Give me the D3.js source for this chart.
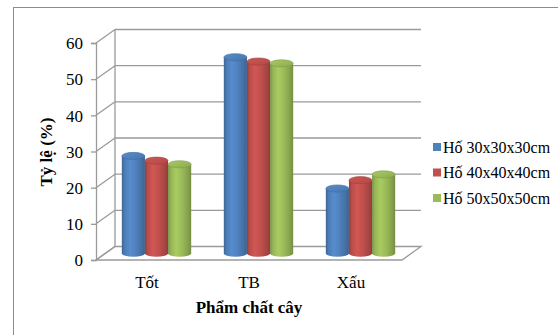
<!DOCTYPE html>
<html>
<head>
<meta charset="utf-8">
<script src="https://cdn.jsdelivr.net/npm/d3@7"></script>
<style>
  html, body { margin: 0; padding: 0; background: #fff; }
  svg { display: block; }
  svg text { font-family: "Liberation Serif", "Times New Roman", "DejaVu Serif", serif; }
</style>
</head>
<body>
<svg id="chart" width="558" height="335"></svg>
<script>
// Tỷ lệ phẩm chất cây theo kích thước hố trồng
const categories = ["Tốt", "TB", "Xấu"];
const seriesNames = ["Hố 30x30x30cm", "Hố 40x40x40cm", "Hố 50x50x50cm"];
const seriesColors = ["#4F81BD", "#C0504D", "#9BBB59"];
const ho30 = [26.9, 54.2, 17.9];
const ho40 = [25.6, 53.0, 20.2];
const ho50 = [24.6, 52.5, 21.8];
const yTicks = [0, 10, 20, 30, 40, 50, 60];
const yTitle = "Tỷ lệ (%)";
const xTitle = "Phẩm chất cây";

const seriesValues = [ho30, ho40, ho50];
const serif = "'Liberation Serif', 'Times New Roman', 'DejaVu Serif', serif";

const svg = d3.select("#chart").attr("font-family", serif);

// 3D layout: front plane plus a depth offset toward the back wall
const depthX = 19, depthY = -13.5;
const x0 = d3.scaleBand().domain(categories).range([96, 402]).padding(0);
const groupWidth = x0.bandwidth() * 0.68;
const x1 = d3.scaleBand().domain(seriesNames).range([-groupWidth / 2, groupWidth / 2]).padding(0);
const y = d3.scaleLinear().domain([0, 60]).range([260, 43]);

// Outer chart frame
svg.append("rect")
  .attr("x", 13.5).attr("y", 7.5)
  .attr("width", 600).attr("height", 400)
  .attr("fill", "none").attr("stroke", "#8c8c8c").attr("stroke-width", 1);

const gridColor = "#9a9a9a";
const grid = svg.append("g").attr("fill", "none").attr("stroke", gridColor).attr("stroke-width", 1.3);

// Floor
const [fx0, fx1] = x0.range();
grid.append("path")
  .attr("fill", "#fff")
  .attr("d", `M${fx0},${y(0)} L${fx1},${y(0)} L${fx1 + depthX},${y(0) + depthY} L${fx0 + depthX},${y(0) + depthY} Z`);

// Back-wall gridlines and side-wall diagonals
yTicks.forEach(t => {
  const yy = y(t);
  if (t > 0) {
    grid.append("line")
      .attr("x1", fx0 + depthX).attr("x2", fx1 + depthX)
      .attr("y1", yy + depthY).attr("y2", yy + depthY);
  }
  grid.append("line")
    .attr("x1", fx0).attr("y1", yy)
    .attr("x2", fx0 + depthX).attr("y2", yy + depthY);
});
// Back wall left edge
grid.append("line")
  .attr("x1", fx0 + depthX).attr("x2", fx0 + depthX)
  .attr("y1", y(0) + depthY).attr("y2", y(60) + depthY);

// Front value axis
const axis = d3.axisLeft(y).tickValues(yTicks).tickSize(5).tickPadding(8);
const axisG = svg.append("g").attr("transform", `translate(${fx0},0)`).call(axis);
axisG.attr("font-family", serif).attr("font-size", 17);
axisG.select(".domain").attr("stroke", gridColor).attr("stroke-width", 1.3);
axisG.selectAll(".tick line").attr("stroke", gridColor).attr("stroke-width", 1.3);
axisG.selectAll(".tick text")
  .attr("font-family", serif)
  .attr("font-size", 17).attr("fill", "#000")
  .attr("dy", "0.34em");

// Cylinder gradients
const defs = svg.append("defs");
seriesColors.forEach((c, i) => {
  const base = d3.color(c);
  const g = defs.append("linearGradient").attr("id", "side" + i)
    .attr("x1", "0%").attr("x2", "100%").attr("y1", "0%").attr("y2", "0%");
  [[0, base.darker(0.7)], [0.12, base.darker(0.1)], [0.35, base.brighter(0.25)],
   [0.6, base], [0.88, base.darker(0.45)], [1, base.darker(0.8)]]
    .forEach(([o, col]) => g.append("stop").attr("offset", o).attr("stop-color", col));
  const t = defs.append("linearGradient").attr("id", "top" + i)
    .attr("x1", "0%").attr("x2", "100%").attr("y1", "0%").attr("y2", "100%");
  [[0, base.brighter(0.2)], [0.5, base], [1, base.darker(0.3)]]
    .forEach(([o, col]) => t.append("stop").attr("offset", o).attr("stop-color", col));
});

// Cylinders, placed at mid-depth
const midX = depthX / 2, midY = depthY / 2;
const ry = 3.6;
const bars = svg.append("g");
categories.forEach((cat, ci) => {
  seriesNames.forEach((s, si) => {
    const v = seriesValues[si][ci];
    const cx = x0(cat) + x0.bandwidth() / 2 + midX + x1(s) + x1.bandwidth() / 2;
    const rx = x1.bandwidth() / 2;
    const yb = y(0) + midY;
    const yt = y(v) + midY;
    const g = bars.append("g");
    g.append("path")
      .attr("fill", `url(#side${si})`)
      .attr("d", `M${cx - rx},${yt} L${cx - rx},${yb} A${rx},${ry} 0 0 0 ${cx + rx},${yb} L${cx + rx},${yt} Z`);
    g.append("ellipse")
      .attr("cx", cx).attr("cy", yt).attr("rx", rx).attr("ry", ry)
      .attr("fill", `url(#top${si})`)
      .attr("stroke", d3.color(seriesColors[si]).darker(0.5)).attr("stroke-width", 0.6);
  });
});

// Category labels
svg.append("g").selectAll("text").data(categories).join("text")
  .attr("x", d => x0(d) + x0.bandwidth() / 2)
  .attr("y", 288)
  .attr("text-anchor", "middle")
  .attr("font-family", serif)
  .attr("font-size", 17).attr("fill", "#000")
  .text(d => d);

// Axis titles
svg.append("text")
  .attr("x", 249).attr("y", 313)
  .attr("text-anchor", "middle")
  .attr("font-family", serif)
  .attr("font-size", 17).attr("font-weight", "bold").attr("fill", "#000")
  .text(xTitle);

svg.append("text")
  .attr("transform", "translate(52,152) rotate(-90)")
  .attr("text-anchor", "middle")
  .attr("font-family", serif)
  .attr("font-size", 17).attr("font-weight", "bold").attr("fill", "#000")
  .text(yTitle);

// Legend
const legend = svg.append("g").attr("transform", "translate(433,147)");
seriesNames.forEach((s, i) => {
  const row = legend.append("g").attr("transform", `translate(0,${i * 25.5})`);
  row.append("rect").attr("x", 0).attr("y", -4).attr("width", 8).attr("height", 8)
    .attr("fill", seriesColors[i]);
  row.append("text").attr("x", 10).attr("y", 0).attr("dy", "0.35em")
    .attr("font-family", serif)
    .attr("font-size", 16).attr("fill", "#000").text(s);
});
</script>
</body>
</html>
